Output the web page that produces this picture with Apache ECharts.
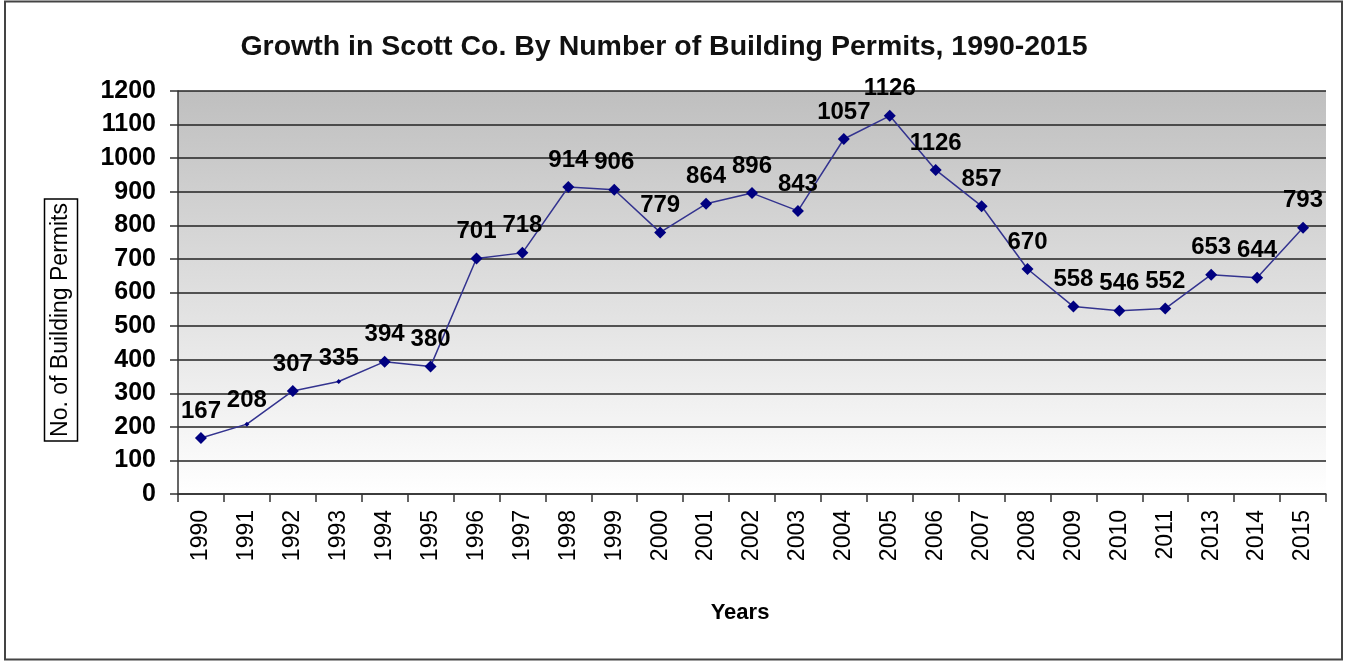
<!DOCTYPE html>
<html>
<head>
<meta charset="utf-8">
<script src="https://cdn.jsdelivr.net/npm/echarts@6/dist/echarts.min.js"></script>
<style>
  html, body { margin: 0; padding: 0; background: #fff; }
  #chart { width: 1346px; height: 662px; }
</style>
</head>
<body>
<div id="chart"></div>
<script>
// years on the axis (2012 is missing in the source)
var years = ["1990", "1991", "1992", "1993", "1994", "1995", "1996", "1997", "1998", "1999",
  "2000", "2001", "2002", "2003", "2004", "2005", "2006", "2007", "2008", "2009",
  "2010", "2011", "2013", "2014", "2015"];
// plotted values, read from the point positions
var permits = [167, 208, 307, 335, 394, 380, 701, 718, 914, 906,
  779, 864, 896, 843, 1057, 1126, 965, 857, 670, 558,
  546, 552, 653, 644, 793];
// label text as printed on the chart (2006 shows 1126)
var pointLabels = ["167", "208", "307", "335", "394", "380", "701", "718", "914", "906",
  "779", "864", "896", "843", "1057", "1126", "1126", "857", "670", "558",
  "546", "552", "653", "644", "793"];
// points drawn with a tiny marker
var smallMarks = ["1991", "1993"];

var font = "Liberation Sans, Arial, sans-serif";
var chart = echarts.init(document.getElementById("chart"));

var option = {
  backgroundColor: "#fff",
  animation: false,
  title: {
    text: "Growth in Scott Co. By Number of Building Permits, 1990-2015",
    left: 659,
    top: 28,
    textAlign: "center",
    textStyle: { fontFamily: font, fontSize: 28.5, fontWeight: "bold", color: "#111" }
  },
  graphic: [
    {
      type: "rect",
      shape: { x: 5, y: 1.5, width: 1337, height: 658 },
      style: { fill: "none", stroke: "#444", lineWidth: 2 },
      silent: true
    },
    {
      type: "text",
      x: 740,
      y: 613,
      style: {
        text: "Years",
        font: "bold 22px " + font,
        fill: "#000",
        textAlign: "center",
        textVerticalAlign: "middle"
      }
    },
    {
      // boxed y axis title
      type: "text",
      x: 61,
      y: 320,
      rotation: Math.PI / 2,
      style: {
        text: "No. of Building Permits",
        font: "23px " + font,
        fill: "#000",
        align: "center",
        verticalAlign: "middle",
        borderColor: "#000",
        borderWidth: 1.5,
        padding: [6, 4, 4, 4]
      }
    }
  ],
  grid: {
    left: 178,
    right: 20,
    top: 91,
    bottom: 168,
    show: true,
    borderWidth: 0,
    backgroundColor: {
      type: "linear", x: 0, y: 0, x2: 0, y2: 1,
      colorStops: [
        { offset: 0, color: "#bfbfbf" },
        { offset: 1, color: "#ffffff" }
      ]
    }
  },
  xAxis: {
    type: "category",
    data: years,
    boundaryGap: true,
    axisLine: { lineStyle: { color: "#333", width: 1.5 } },
    axisTick: { show: true, length: 8, lineStyle: { color: "#333", width: 1.5 } },
    axisLabel: {
      rotate: 90,
      margin: 16,
      interval: 0,
      fontFamily: font,
      fontSize: 23,
      color: "#000"
    },
    splitLine: { show: false }
  },
  yAxis: {
    type: "value",
    min: 0,
    max: 1200,
    interval: 100,
    axisLine: { show: true, lineStyle: { color: "#333", width: 1.5 } },
    axisTick: { show: true, length: 8, lineStyle: { color: "#333", width: 1.5 } },
    axisLabel: {
      margin: 22,
      fontFamily: font,
      fontSize: 25,
      fontWeight: "bold",
      color: "#000",
      formatter: function (v) { return String(v); }
    },
    splitLine: { show: true, lineStyle: { color: "#222", width: 1.5 } }
  },
  series: [
    {
      type: "line",
      data: permits,
      symbol: "diamond",
      symbolSize: function (val, params) {
        return smallMarks.indexOf(years[params.dataIndex]) >= 0 ? 5 : 12;
      },
      itemStyle: { color: "#000080" },
      lineStyle: { color: "#33338f", width: 1.5 },
      label: {
        show: true,
        position: "top",
        distance: 9,
        fontFamily: font,
        fontSize: 24,
        fontWeight: "bold",
        color: "#000",
        formatter: function (p) {
          return pointLabels[p.dataIndex];
        }
      }
    }
  ]
};

chart.setOption(option);
window.onresize = chart.resize;
</script>
</body>
</html>
